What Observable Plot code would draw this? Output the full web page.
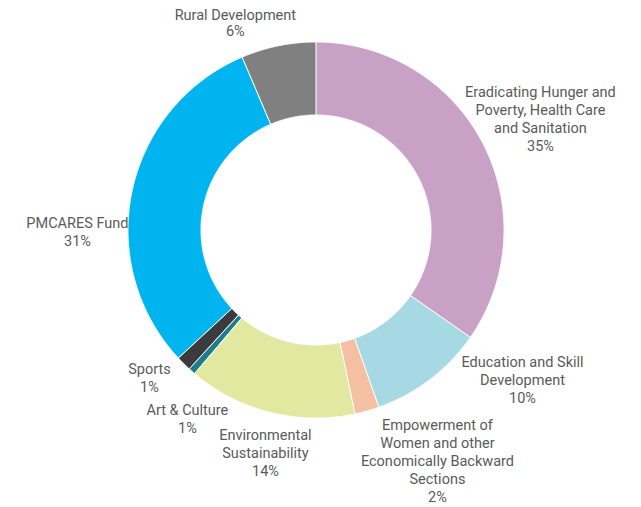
<!DOCTYPE html>
<html><head><meta charset="utf-8">
<script src="https://cdn.jsdelivr.net/npm/d3@7"></script>
<script src="https://cdn.jsdelivr.net/npm/@observablehq/plot@0.6"></script>
<style>body{margin:0;background:#fff;} #chart svg{display:block;}</style>
</head><body><div id="chart"></div>
<script>
// ---- data ----
const categories = [
  "Eradicating Hunger and Poverty, Health Care and Sanitation",
  "Education and Skill Development",
  "Empowerment of Women and other Economically Backward Sections",
  "Environmental Sustainability",
  "Art & Culture",
  "Sports",
  "PMCARES Fund",
  "Rural Development"
];
const labelLines = [
  "Eradicating Hunger and\nPoverty, Health Care\nand Sanitation",
  "Education and Skill\nDevelopment",
  "Empowerment of\nWomen and other\nEconomically Backward\nSections",
  "Environmental\nSustainability",
  "Art & Culture",
  "Sports",
  "PMCARES Fund",
  "Rural Development"
];
const values = [34.7, 9.9, 2.1, 14.5, 0.6, 1.3, 30.5, 6.4];
const shareLabels = ["35%", "10%", "2%", "14%", "1%", "1%", "31%", "6%"];
const colors = ["#C9A0C6", "#A7D9E5", "#F5C0A1", "#E2E8A0", "#1E7D8A", "#3B3B3D", "#00B5EF", "#808080"];

// ---- layout (label placement, polar: degrees clockwise from top, radius in outer-radius units) ----
const labelAngle = [63.5, 125.9, 152.2, 192.8, 214.4, 228.6, 269.6, 338.7];
const labelRadius = [1.334, 1.356, 1.385, 1.214, 1.211, 1.181, 1.269, 1.181];
const innerR = 0.612;
const R = 188, cx = 315.5, cy = 229.5, W = 641, H = 507;

const arcs = d3.pie().sort(null).value(d => d)(values);
const ring = [];
arcs.forEach((a, i) => {
  const n = Math.max(4, Math.ceil((a.endAngle - a.startAngle) / 0.004));
  for (let k = 0; k <= n; k++) {
    const t = a.startAngle + (a.endAngle - a.startAngle) * k / n;
    ring.push({cat: categories[i], x: Math.sin(t), y: Math.cos(t)});
  }
  for (let k = n; k >= 0; k--) {
    const t = a.startAngle + (a.endAngle - a.startAngle) * k / n;
    ring.push({cat: categories[i], x: innerR * Math.sin(t), y: innerR * Math.cos(t)});
  }
});

const labels = categories.map((c, i) => {
  const t = labelAngle[i] * Math.PI / 180;
  return {
    x: labelRadius[i] * Math.sin(t),
    y: labelRadius[i] * Math.cos(t),
    text: labelLines[i] + "\n" + shareLabels[i],
    tight: i === 7
  };
});

const chart = Plot.plot({
  width: W, height: H,
  margin: 0,
  x: {domain: [-cx / R, (W - cx) / R], axis: null},
  y: {domain: [-(H - cy) / R, cy / R], axis: null},
  color: {domain: categories, range: colors},
  style: {fontFamily: "Roboto, sans-serif", background: "#fff"},
  marks: [
    Plot.line(ring, {x: "x", y: "y", z: "cat", fill: "cat", stroke: "#fff", strokeWidth: 1, curve: "linear-closed"}),
    Plot.text(labels.filter(d => !d.tight), {x: "x", y: "y", text: "text", fill: "#5a5a5a", fontSize: 14.5, lineHeight: 1.24, lineAnchor: "middle", textAnchor: "middle"}),
    Plot.text(labels.filter(d => d.tight), {x: "x", y: "y", text: "text", fill: "#5a5a5a", fontSize: 14.5, lineHeight: 1.06, lineAnchor: "middle", textAnchor: "middle"})
  ]
});
document.getElementById("chart").append(chart);
</script>
</body></html>
